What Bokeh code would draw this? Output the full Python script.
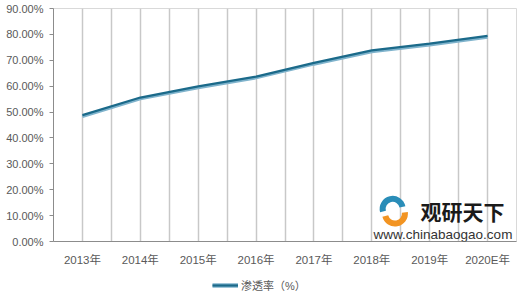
from bokeh.plotting import figure
from bokeh.layouts import column
from bokeh.models import FixedTicker, Legend, LegendItem, Label
from bokeh.embed import file_html
from bokeh.resources import INLINE

years = ["2013年", "2014年", "2015年", "2016年", "2017年", "2018年", "2019年", "2020E年"]
rate = [48.8, 55.6, 59.9, 63.7, 69.0, 73.8, 76.4, 79.4]
series_name = "渗透率（%）"
y_ticks = [0, 10, 20, 30, 40, 50, 60, 70, 80, 90]

FONT = "'Liberation Sans', 'Noto Sans CJK SC', sans-serif"
xs = list(range(len(years)))
LIGHT = "#7FB3CC"
DARK = "#1B6A8A"

p = figure(width=520, height=272, output_backend="svg", toolbar_location=None,
           x_range=(-0.5, len(years) - 0.5), y_range=(0, 90),
           min_border_left=53, min_border_right=4, min_border_top=8, min_border_bottom=31)
p.background_fill_color = "white"
p.border_fill_color = "white"
p.outline_line_color = "#D9D9D9"

# grids
p.xgrid.ticker = FixedTicker(ticks=[i * 0.5 - 0.5 for i in range(2 * len(years) + 1)])
p.xgrid.grid_line_color = "#C8C8C8"
p.xgrid.grid_line_width = 1.5
p.ygrid.grid_line_color = None

# y axis
p.yaxis.ticker = FixedTicker(ticks=y_ticks)
p.yaxis.major_label_overrides = {v: f"{v:.2f}%" for v in y_ticks}
p.yaxis.axis_line_color = "#8C8C8C"
p.yaxis.major_tick_line_color = "#8C8C8C"
p.yaxis.major_tick_out = 4
p.yaxis.major_tick_in = 0
p.yaxis.minor_tick_line_color = None
p.yaxis.major_label_text_font = FONT
p.yaxis.major_label_text_font_size = "11px"
p.yaxis.major_label_text_color = "#595959"
p.yaxis.major_label_standoff = 6

# x axis
p.xaxis.ticker = FixedTicker(ticks=xs)
p.xaxis.major_label_overrides = {i: y for i, y in enumerate(years)}
p.xaxis.axis_line_color = "#8C8C8C"
p.xaxis.major_tick_line_color = None
p.xaxis.minor_tick_line_color = None
p.xaxis.major_label_text_font = FONT
p.xaxis.major_label_text_font_size = "11.5px"
p.xaxis.major_label_text_color = "#595959"
p.xaxis.major_label_standoff = 6

# series: light shadow + dark line
p.line(xs, [v - 0.5 for v in rate], line_color=LIGHT, line_width=3)
p.line(xs, rate, line_color=DARK, line_width=2.2)

# watermark logo
p.annular_wedge(x=[5.36], y=[12.6], inner_radius=7, outer_radius=13,
                inner_radius_units="screen", outer_radius_units="screen",
                start_angle=0.2, end_angle=3.4,
                fill_color="#2A8DB8", line_color=None)
p.annular_wedge(x=[5.40], y=[10.8], inner_radius=7, outer_radius=13,
                inner_radius_units="screen", outer_radius_units="screen",
                start_angle=3.4, end_angle=6.4,
                fill_color="#F29422", line_color=None)
p.add_layout(Label(x=5.84, y=11.6, text="观研天下", text_font="'Noto Sans CJK SC'",
                   text_font_size="21px", text_font_style="bold", text_color="#1A1A1A",
                   text_baseline="middle"))
p.add_layout(Label(x=5.03, y=2.7, text="www.chinabaogao.com", text_font="'Liberation Sans'",
                   text_font_size="13.5px", text_color="#333333", text_baseline="middle"))

# legend strip (renderers hold points outside the visible range)
q = figure(width=520, height=30, output_backend="svg", toolbar_location=None,
           x_range=(0, 1), y_range=(0, 1), min_border=0)
q.axis.visible = False
q.grid.visible = False
q.outline_line_color = None
r_light = q.line([5, 6], [5, 6], line_color=LIGHT, line_width=4.5)
r_dark = q.line([5, 6], [5, 6], line_color=DARK, line_width=2.2)
legend = Legend(items=[LegendItem(label=series_name, renderers=[r_light, r_dark])],
                orientation="horizontal", location=(159, 9),
                label_text_font=FONT, label_text_font_size="11px", label_text_color="#595959",
                glyph_width=26, glyph_height=12, label_height=12, label_standoff=3,
                border_line_color=None, background_fill_alpha=0, padding=0, margin=0)
q.add_layout(legend, "center")

open("out.html", "w").write(file_html(column(p, q, spacing=0), INLINE))
